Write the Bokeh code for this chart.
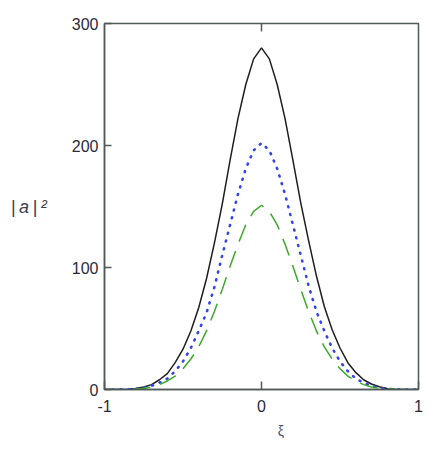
from bokeh.plotting import figure
from bokeh.models import FixedTicker, LinearAxis, Range1d
from bokeh.embed import file_html
from bokeh.resources import INLINE

xi = [-1.0, -0.95, -0.9, -0.85, -0.8, -0.75, -0.7, -0.65, -0.6, -0.55, -0.5,
      -0.45, -0.4, -0.35, -0.3, -0.25, -0.2, -0.15, -0.1, -0.05, 0.0,
      0.05, 0.1, 0.15, 0.2, 0.25, 0.3, 0.35, 0.4, 0.45, 0.5,
      0.55, 0.6, 0.65, 0.7, 0.75, 0.8, 0.85, 0.9, 0.95, 1.0]

a_solid = [0, 0, 0.1, 0.3, 0.8, 2, 4, 8, 13, 22, 33, 48, 67, 91, 120, 152, 188, 222, 250, 271, 280,
           271, 250, 222, 188, 153, 122, 93, 68, 49, 34, 22, 14, 8, 4.5, 2.2, 0.9, 0.3, 0.1, 0, 0]
a_dotted = [0, 0, 0.1, 0.2, 0.5, 1.4, 3, 5.5, 9, 15, 23, 34, 48, 63, 84, 110, 135, 160, 181, 196, 202,
            196, 181, 160, 135, 110, 85, 64, 48, 34, 23, 15, 9, 5.5, 3, 1.4, 0.5, 0.2, 0.1, 0, 0]
a_dashed = [0, 0, 0.05, 0.15, 0.4, 1, 2, 4, 7, 11, 17, 25, 35, 48, 64, 82, 101, 119, 135, 146, 151,
            146, 135, 119, 101, 82, 64, 48, 35, 25, 17, 11, 7, 4, 2, 1, 0.4, 0.15, 0.05, 0, 0]

x_ticks = [-1, 0, 1]
x_tick_labels = {-1: "-1", 0: "0", 1: "1"}
y_ticks = [0, 100, 200, 300]

FONT = "Liberation Sans"
TXT = "#2a2a3a"
FRAME = "#505858"
W, H = 428, 445

p = figure(width=W, height=H, output_backend="svg", toolbar_location=None,
           x_range=Range1d(-1, 1), y_range=Range1d(0, 300),
           min_border_left=104, min_border_right=10, min_border_top=23, min_border_bottom=56,
           x_axis_location="below", y_axis_location="left")
p.grid.visible = False
p.outline_line_color = FRAME
p.outline_line_width = 1.5
p.background_fill_color = "white"
p.border_fill_color = "white"

p.line(xi, a_solid, line_color="#1e1e1e", line_width=1.5)
p.line(xi, a_dotted, line_color="#3344ee", line_width=2.6, line_dash="1 7", line_cap="round")
p.line(xi, a_dashed, line_color="#3aaa28", line_width=1.5, line_dash="18 10")

xa = p.xaxis[0]
xa.ticker = FixedTicker(ticks=x_ticks)
xa.major_label_overrides = x_tick_labels
xa.major_tick_in = 8
xa.major_tick_out = 0
xa.minor_tick_line_color = None
xa.axis_line_color = FRAME
xa.axis_line_width = 1.5
xa.major_tick_line_color = FRAME
xa.major_tick_line_width = 1.5
xa.major_label_standoff = 10
xa.major_label_text_font = FONT
xa.major_label_text_font_size = "16px"
xa.major_label_text_color = TXT
xa.axis_label = "\u00a0" * 10 + "ξ"
xa.axis_label_text_font = FONT
xa.axis_label_text_font_size = "14px"
xa.axis_label_text_font_style = "normal"
xa.axis_label_text_color = "#4a5070"
xa.axis_label_standoff = 8

ya = p.yaxis[0]
ya.ticker = FixedTicker(ticks=y_ticks)
ya.major_tick_in = 7
ya.major_tick_out = 0
ya.minor_tick_line_color = None
ya.axis_line_color = FRAME
ya.axis_line_width = 1.5
ya.major_tick_line_color = FRAME
ya.major_tick_line_width = 1.5
ya.major_label_standoff = 6
ya.major_label_text_font = FONT
ya.major_label_text_font_size = "16px"
ya.major_label_text_color = TXT
ya.axis_label = "|\u2009a\u2009|\u2009²"
ya.axis_label_text_font = FONT
ya.axis_label_text_font_size = "18px"
ya.axis_label_text_font_style = "italic"
ya.axis_label_text_color = "#3a4050"
ya.axis_label_standoff = 22
try:
    ya.axis_label_orientation = "horizontal"
except Exception:
    pass

top = LinearAxis(ticker=FixedTicker(ticks=[0]), major_label_overrides={0: ""},
                 major_tick_in=8, major_tick_out=0, minor_tick_line_color=None,
                 axis_line_color=None, major_tick_line_color=FRAME, major_tick_line_width=1.5,
                 major_label_text_font_size="1px", major_label_standoff=0)
p.add_layout(top, "above")

open("out.html", "w").write(file_html(p, INLINE))
